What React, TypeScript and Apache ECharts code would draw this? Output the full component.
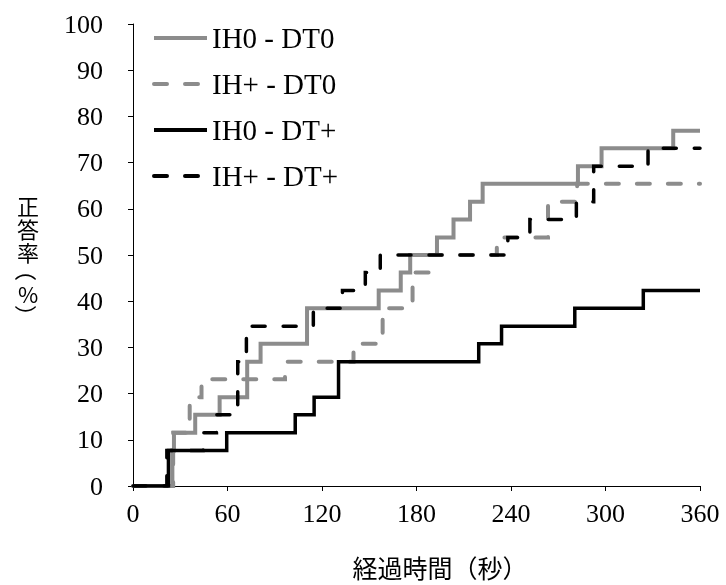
import React, { useEffect, useRef } from "react";
import * as echarts from "echarts";

// Elapsed time (s) at which each step begins, and the correct-answer rate (%) from then on
const ih0dt0Times = [0, 25, 26, 39.5, 55, 72.5, 81, 110.5, 156, 170, 176, 193, 203.5, 214, 222, 282.5, 297.5, 343, 360];
const ih0dt0Values = [0, 7.7, 11.5, 15.4, 19.2, 26.9, 30.8, 38.5, 42.3, 46.2, 50, 53.8, 57.7, 61.5, 65.4, 69.2, 73.1, 76.9, 76.9];

const ihpdt0Times = [0, 25.5, 36, 43.5, 96.5, 140, 158.5, 177.5, 188, 231, 263.5, 282, 360];
const ihpdt0Values = [0, 11.5, 19.2, 23.1, 26.9, 30.8, 38.5, 46.2, 50, 53.8, 61.5, 65.4, 65.4];

const ih0dtpTimes = [0, 22.5, 59.5, 103, 115, 130.5, 219.5, 234, 280.5, 324, 360];
const ih0dtpValues = [0, 7.7, 11.5, 15.4, 19.2, 26.9, 30.8, 34.6, 38.5, 42.3, 42.3];

const ihpdtpTimes = [0, 21.5, 44.5, 53, 66.5, 72, 114.5, 133, 147.5, 157, 238, 252, 281.5, 292.5, 327, 360];
const ihpdtpValues = [0, 7.7, 11.5, 15.4, 26.9, 34.6, 38.5, 42.3, 46.2, 50, 53.8, 57.7, 61.5, 69.2, 73.1, 73.1];

const seriesNames = ["IH0 - DT0", "IH+ - DT0", "IH0 - DT+", "IH+ - DT+"];
const xTicks = { min: 0, max: 360, interval: 60 };
const yTicks = { min: 0, max: 100, interval: 10 };
const xAxisTitle = "経過時間（秒）";
const yAxisTitleMain = "正\n答\n率";
const yAxisTitleUnit = ["（", "%", "）"];

const GRAY = "#8c8c8c";
const BLACK = "#000000";
const SERIF = '"Liberation Serif", "Times New Roman", serif';
const CJK = '"Noto Sans CJK JP", "Noto Sans", sans-serif';

const zip = (t: number[], v: number[]) => t.map((x, i) => [x, v[i]]);

export default function App() {
  const ref = useRef<HTMLDivElement>(null);
  useEffect(() => {
    if (!ref.current) return;
    const chart = echarts.init(ref.current, undefined, { renderer: "svg" });
    const mk = (name: string, data: number[][], color: string, width: number, dashed: boolean) => ({
      name,
      type: "line",
      step: "end",
      data,
      symbol: "none",
      showSymbol: false,
      lineStyle: {
        color,
        width,
        type: dashed ? [13, 18] : "solid",
        cap: dashed ? "round" : "butt",
        join: "miter",
      },
      itemStyle: { color },
      emphasis: { disabled: true },
    });
    // stacked vertical unit "(%)", brackets turned to vertical form
    const unitCenters = [270, 293, 316];
    const unitTexts = yAxisTitleUnit.map((ch, i) => ({
      type: "text",
      x: 28,
      y: unitCenters[i],
      rotation: ch === "%" ? 0 : -Math.PI / 2,
      style: {
        text: ch,
        fontSize: 22,
        lineHeight: 22,
        fontFamily: CJK,
        fill: "#000",
        align: "center",
        verticalAlign: "middle",
      },
    }));
    chart.setOption({
      animation: false,
      grid: { left: 133, right: 26, top: 24, bottom: 99, containLabel: false },
      legend: {
        orient: "vertical",
        left: 152,
        top: 23,
        padding: 0,
        itemWidth: 53,
        itemHeight: 14,
        itemGap: 16,
        itemStyle: { opacity: 0 },
        lineStyle: { width: 4 },
        textStyle: { fontFamily: SERIF, fontSize: 29, color: "#000", lineHeight: 30 },
        data: seriesNames,
      },
      xAxis: {
        type: "value",
        min: xTicks.min,
        max: xTicks.max,
        interval: xTicks.interval,
        axisLine: { show: true, lineStyle: { color: "#000", width: 1 } },
        axisTick: { show: true, inside: false, length: 5, lineStyle: { color: "#000" } },
        axisLabel: { fontFamily: SERIF, fontSize: 26, color: "#000", margin: 14 },
        splitLine: { show: false },
      },
      yAxis: {
        type: "value",
        min: yTicks.min,
        max: yTicks.max,
        interval: yTicks.interval,
        axisLine: { show: true, lineStyle: { color: "#000", width: 1 } },
        axisTick: { show: true, inside: false, length: 5, lineStyle: { color: "#000" } },
        axisLabel: { fontFamily: SERIF, fontSize: 26, color: "#000", margin: 30 },
        splitLine: { show: false },
      },
      graphic: [
        {
          type: "text",
          x: 440,
          y: 567,
          style: {
            text: xAxisTitle,
            fontSize: 25,
            fontFamily: CJK,
            fill: "#000",
            align: "center",
            verticalAlign: "middle",
          },
        },
        {
          type: "text",
          x: 28,
          y: 228,
          style: {
            text: yAxisTitleMain,
            fontSize: 22,
            lineHeight: 23,
            fontFamily: CJK,
            fill: "#000",
            align: "center",
            verticalAlign: "middle",
          },
        },
        ...unitTexts,
      ],
      series: [
        mk(seriesNames[0], zip(ih0dt0Times, ih0dt0Values), GRAY, 4, false),
        mk(seriesNames[1], zip(ihpdt0Times, ihpdt0Values), GRAY, 4, true),
        mk(seriesNames[2], zip(ih0dtpTimes, ih0dtpValues), BLACK, 3.5, false),
        mk(seriesNames[3], zip(ihpdtpTimes, ihpdtpValues), BLACK, 3.5, true),
      ],
    });
    return () => chart.dispose();
  }, []);
  return <div ref={ref} style={{ position: "fixed", left: 0, top: 0, width: 726, height: 585 }} />;
}
